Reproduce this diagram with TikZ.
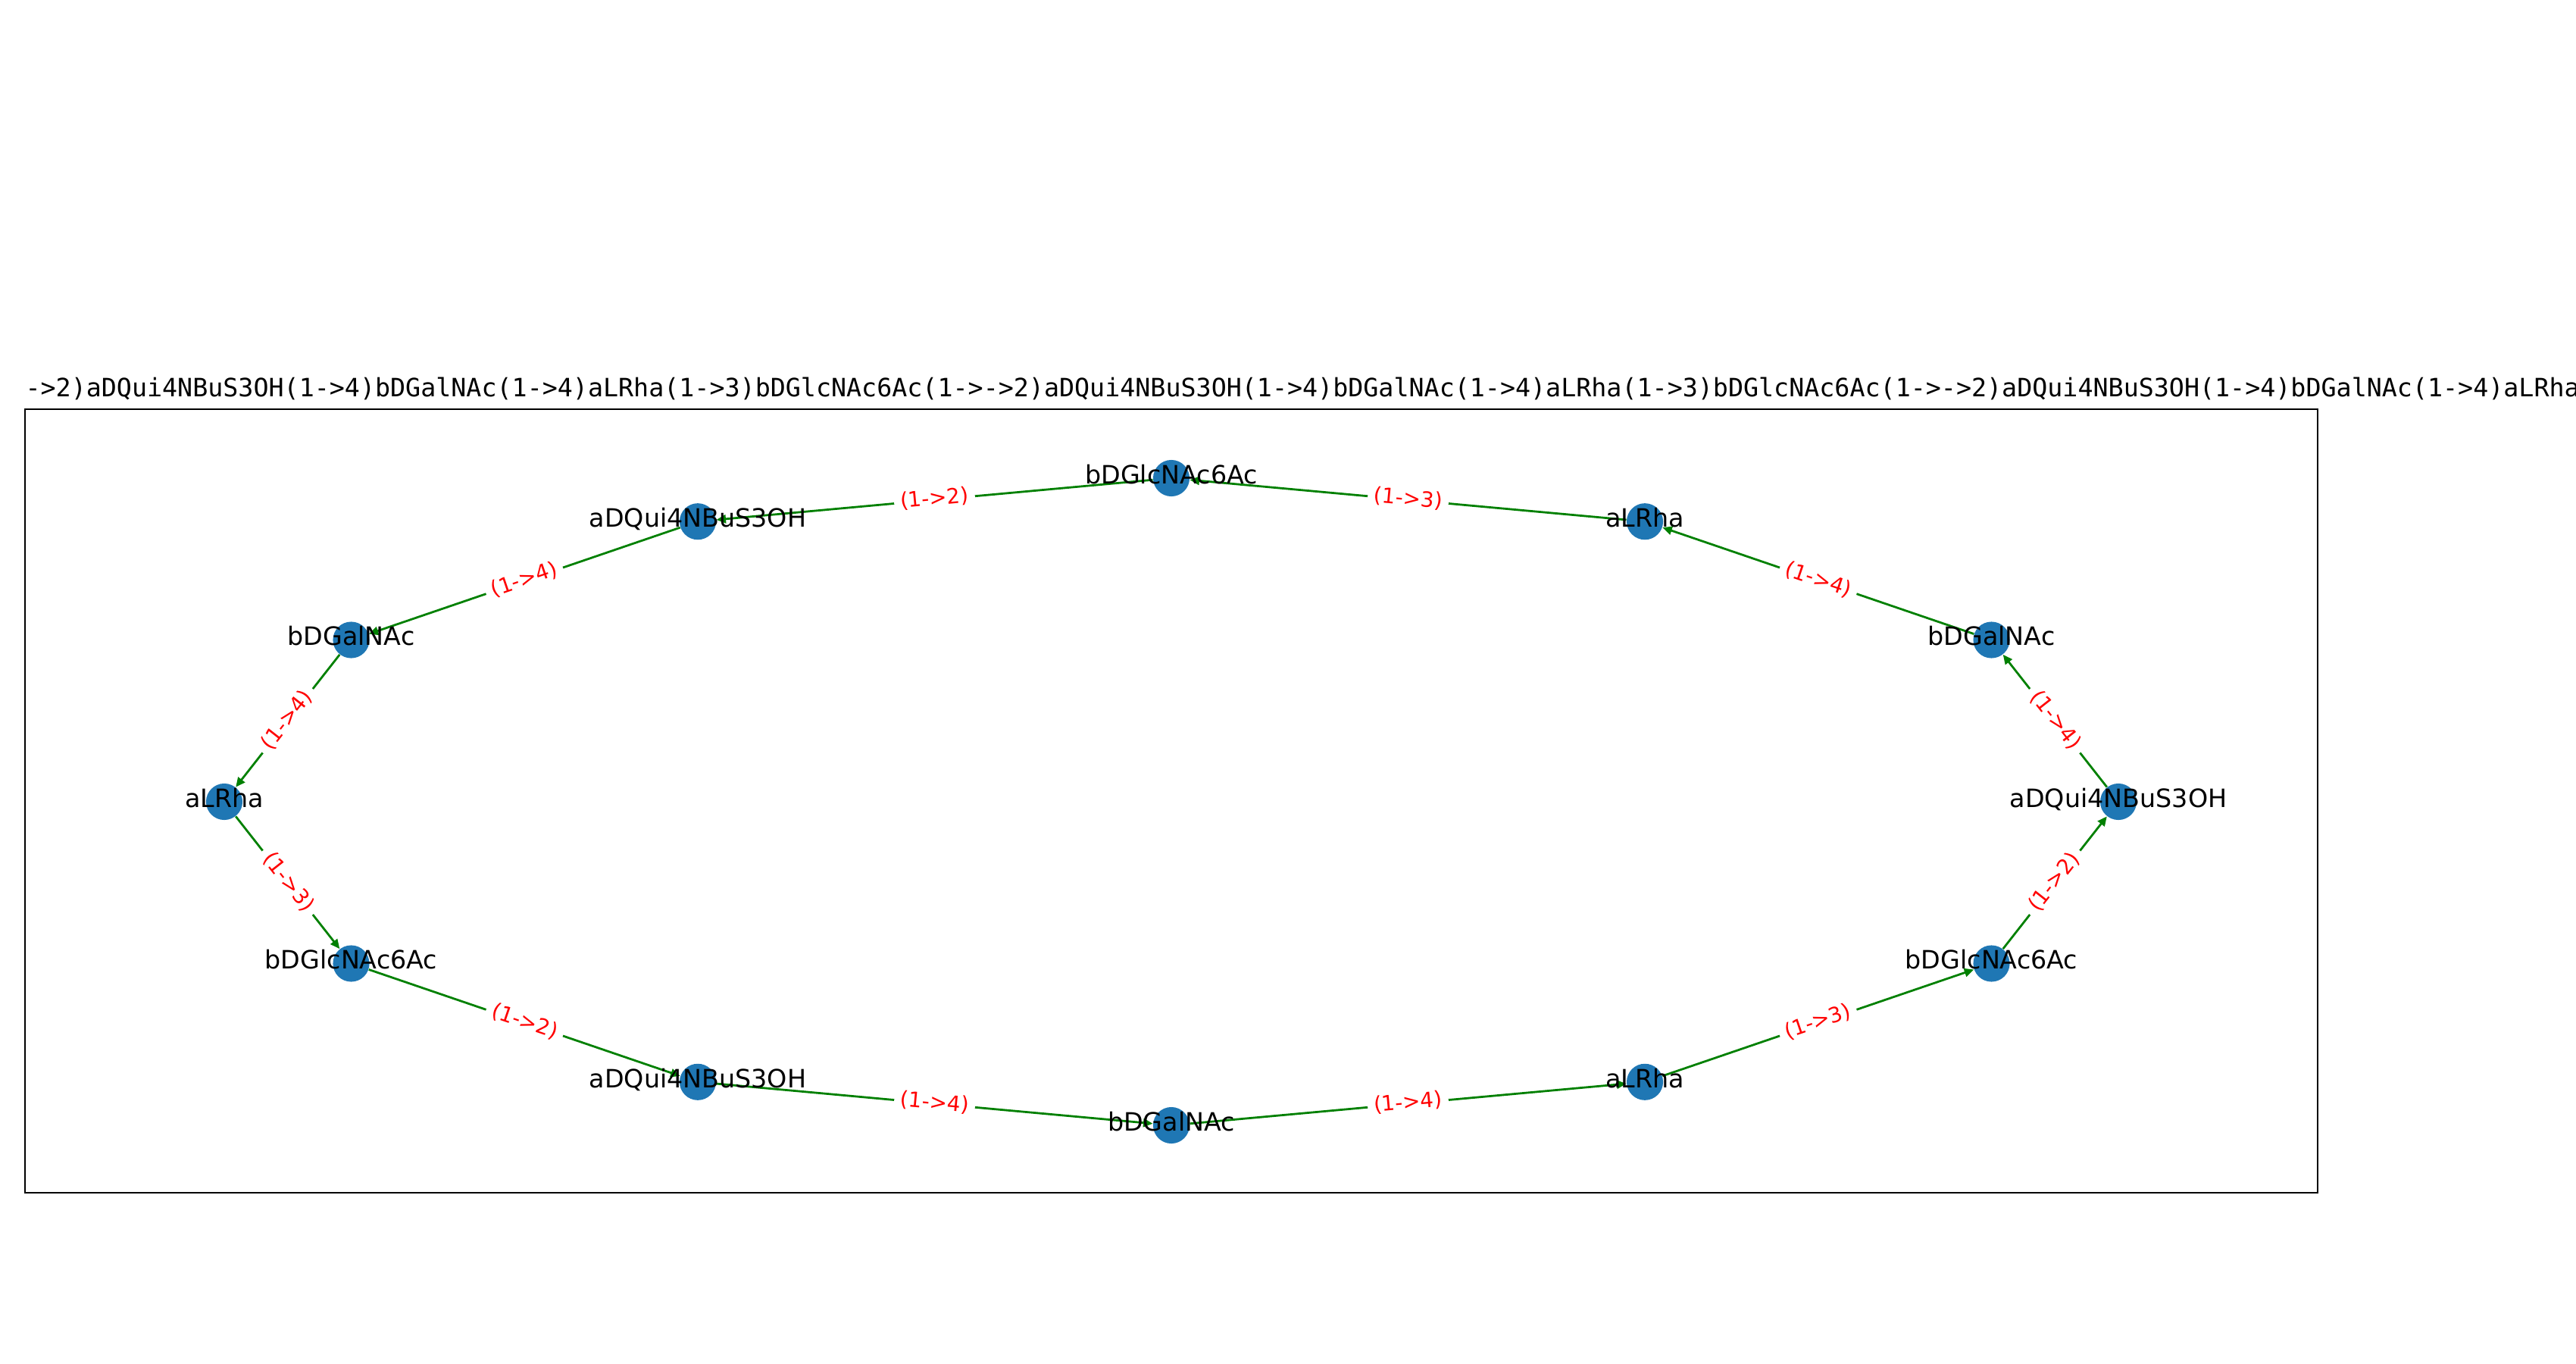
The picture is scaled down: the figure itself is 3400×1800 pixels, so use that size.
\documentclass[tikz,border=0pt]{standalone}
\usepackage{fontspec}
\setmainfont{DejaVu Sans}
\newfontfamily\titlemono{DejaVu Sans Mono}
\usetikzlibrary{arrows.meta}
\definecolor{nxblue}{RGB}{31,119,180}
\definecolor{nxgreen}{RGB}{0,128,0}
\definecolor{nxred}{RGB}{255,0,0}
\tikzset{
  vertex/.style={circle, fill=nxblue, minimum size=17.32pt, inner sep=0pt},
  vlabel/.style={font=\fontsize{12}{14}\selectfont, text height=0.76em, text depth=0.24em, inner sep=0pt, text=black},
  link/.style={draw=nxgreen, line width=1pt, -{Triangle[length=4.5pt,width=4pt]}},
  elabel/.style={midway, sloped, fill=white, text=nxred, font=\fontsize{10}{12}\selectfont, text height=0.76em, text depth=0.24em, inner sep=3pt, rounded corners=2pt},
  titletext/.style={font=\titlemono\fontsize{12}{14}\selectfont, anchor=base west, inner sep=0pt},
  frame/.style={draw=black, line width=0.8pt}
}
\begin{document}
\begin{tikzpicture}[x=0.36pt,y=-0.36pt]
\useasboundingbox (0,0) rectangle (3400,1800);
\begin{scope}
\clip (0,0) rectangle (3400,1800);
\node[titletext] (title) at (33,523) {->2)aDQui4NBuS3OH(1->4)bDGalNAc(1->4)aLRha(1->3)bDGlcNAc6Ac(1->->2)aDQui4NBuS3OH(1->4)bDGalNAc(1->4)aLRha(1->3)bDGlcNAc6Ac(1->->2)aDQui4NBuS3OH(1->4)bDGalNAc(1->4)aLRha};
\end{scope}
\draw[frame] (33,540) rectangle (3059,1574);
% vertices
\node[vertex] (n0)  at (2796,1058) {};
\node[vertex] (n1)  at (2628.5,844.5) {};
\node[vertex] (n2)  at (2171,688.2) {};
\node[vertex] (n3)  at (1546,631) {};
\node[vertex] (n4)  at (921,688.2) {};
\node[vertex] (n5)  at (463.5,844.5) {};
\node[vertex] (n6)  at (296,1058) {};
\node[vertex] (n7)  at (463.5,1271.5) {};
\node[vertex] (n8)  at (921,1427.8) {};
\node[vertex] (n9)  at (1546,1485) {};
\node[vertex] (n10) at (2171,1427.8) {};
\node[vertex] (n11) at (2628.5,1271.5) {};
% edges
\draw[link] (n0) -- node[elabel]{(1->4)} (n1);
\draw[link] (n1) -- node[elabel]{(1->4)} (n2);
\draw[link] (n2) -- node[elabel]{(1->3)} (n3);
\draw[link] (n3) -- node[elabel]{(1->2)} (n4);
\draw[link] (n4) -- node[elabel]{(1->4)} (n5);
\draw[link] (n5) -- node[elabel]{(1->4)} (n6);
\draw[link] (n6) -- node[elabel]{(1->3)} (n7);
\draw[link] (n7) -- node[elabel]{(1->2)} (n8);
\draw[link] (n8) -- node[elabel]{(1->4)} (n9);
\draw[link] (n9) -- node[elabel]{(1->4)} (n10);
\draw[link] (n10) -- node[elabel]{(1->3)} (n11);
\draw[link] (n11) -- node[elabel]{(1->2)} (n0);
% vertex labels
\node[vlabel] (t0)  at (n0)  {aDQui4NBuS3OH};
\node[vlabel] (t1)  at (n1)  {bDGalNAc};
\node[vlabel] (t2)  at (n2)  {aLRha};
\node[vlabel] (t3)  at (n3)  {bDGlcNAc6Ac};
\node[vlabel] (t4)  at (n4)  {aDQui4NBuS3OH};
\node[vlabel] (t5)  at (n5)  {bDGalNAc};
\node[vlabel] (t6)  at (n6)  {aLRha};
\node[vlabel] (t7)  at (n7)  {bDGlcNAc6Ac};
\node[vlabel] (t8)  at (n8)  {aDQui4NBuS3OH};
\node[vlabel] (t9)  at (n9)  {bDGalNAc};
\node[vlabel] (t10) at (n10) {aLRha};
\node[vlabel] (t11) at (n11) {bDGlcNAc6Ac};
\end{tikzpicture}
\end{document}
